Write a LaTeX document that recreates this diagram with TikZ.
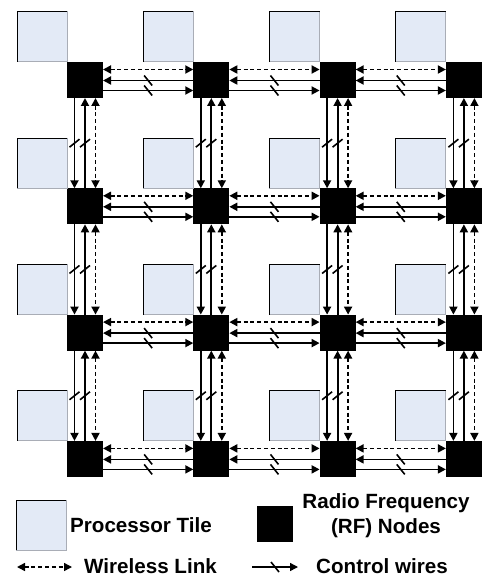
\documentclass[tikz,border=0pt]{standalone}
\usepackage{fontspec}
\setmainfont{Liberation Sans}
\usetikzlibrary{arrows.meta,positioning,decorations.markings}
\definecolor{tilefill}{HTML}{E3EAF6}
\definecolor{tileedge}{HTML}{A9ADB6}

\begin{document}
\begin{tikzpicture}[x=1pt,y=-1pt,
    font=\fontsize{20.6}{25}\selectfont\bfseries,
    rf/.style={fill=black,minimum size=36pt,inner sep=0pt,outer sep=0pt},
    tile/.style={fill=tilefill,draw=tileedge,line width=1pt,minimum size=50pt,inner sep=0pt,outer sep=0pt},
    link/.style={line width=1.8pt,dash pattern=on 4pt off 2.8pt,
      {Triangle[length=8pt,width=8pt]}-{Triangle[length=8pt,width=8pt]}},
    wire/.style={line width=1.8pt,-{Triangle[length=8pt,width=8pt]},postaction={decorate},
      decoration={markings,mark=at position 0.5 with {\draw[-,solid,line width=1.6pt] (-4pt,5pt) -- (4pt,-5pt);}}},
    keytext/.style={anchor=west,inner sep=0pt}]
  \useasboundingbox (0,0) rectangle (482,580);

  % RF nodes with their processor tiles
  \foreach \r in {0,...,3} {
    \foreach \c in {0,...,3} {
      \node[rf,anchor=north west] (rf-\r-\c) at (67+126.3*\c,62+126.3*\r) {};
      \node[tile,anchor=south east] (tile-\r-\c) at (rf-\r-\c.north west) {};
      \draw[line width=1pt] (tile-\r-\c.south west) -- (tile-\r-\c.north west) -- (tile-\r-\c.north east);
    }
  }

  % links along the rows
  \foreach \r in {0,...,3} {
    \foreach \c/\d in {0/1,1/2,2/3} {
      \draw[link] ([yshift=-7.5pt]rf-\r-\c.north east) -- ([yshift=-7.5pt]rf-\r-\d.north west);
      \draw[wire] ([yshift=-18.5pt]rf-\r-\d.north west) -- ([yshift=-18.5pt]rf-\r-\c.north east);
      \draw[wire] ([yshift=-28.5pt]rf-\r-\c.north east) -- ([yshift=-28.5pt]rf-\r-\d.north west);
    }
  }

  % links along the columns
  \foreach \c in {0,...,3} {
    \foreach \r/\s in {0/1,1/2,2/3} {
      \draw[wire] ([xshift=7.5pt]rf-\r-\c.south west) -- ([xshift=7.5pt]rf-\s-\c.north west);
      \draw[wire] ([xshift=18pt]rf-\s-\c.north west) -- ([xshift=18pt]rf-\r-\c.south west);
      \draw[link] ([xshift=28.5pt]rf-\r-\c.south west) -- ([xshift=28.5pt]rf-\s-\c.north west);
    }
  }

  % legend
  \node[tile,anchor=north west] (keytile) at (16,500) {};
  \draw[line width=1pt] (keytile.south west) -- (keytile.north west) -- (keytile.north east);
  \node[keytext] (keytiletxt) at (70,525) {Processor Tile};
  \node[rf,anchor=north west] (keyrf) at (257,506) {};
  \node[align=center,inner sep=0pt] (keyrftxt) at (386,516) {Radio Frequency\\(RF) Nodes};
  \coordinate (keylinka) at (17,567);
  \coordinate (keylinkb) at (72,567);
  \draw[link,line width=1.4pt] (keylinka) -- (keylinkb);
  \node[keytext] (keylinktxt) at (84,566) {Wireless Link};
  \coordinate (keywirea) at (252,567);
  \coordinate (keywireb) at (298,567);
  \draw[wire,line width=1.4pt] (keywirea) -- (keywireb);
  \node[keytext] (keywiretxt) at (316,566) {Control wires};
\end{tikzpicture}
\end{document}
